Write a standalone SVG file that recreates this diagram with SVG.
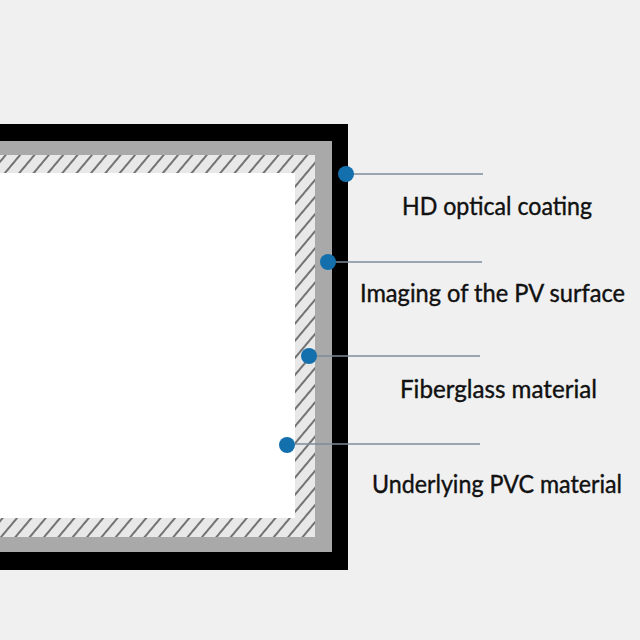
<svg xmlns="http://www.w3.org/2000/svg" width="640" height="640" viewBox="0 0 640 640">
<defs>
<pattern id="hatch" patternUnits="userSpaceOnUse" width="11" height="40" patternTransform="rotate(40)">
<rect width="11" height="40" fill="#e8e8e8"/>
<line x1="5" y1="0" x2="5" y2="40" stroke="#333" stroke-width="1.3"/>
</pattern>
<style>
.lbl{font-family:Lato,"Open Sans","Liberation Sans",sans-serif;font-size:25px;fill:#111;text-anchor:middle;stroke:#111;stroke-width:0.4}
.lead{stroke:#7d8d9b;stroke-width:1.4;fill:none}
.dot{fill:#1470ad}
</style>
</defs>
<rect width="640" height="640" fill="#f0f0f0"/>
<g id="screen">
<rect x="-10" y="124" width="358" height="446" fill="#000"/>
<rect x="-10" y="141" width="342" height="411" fill="#a9a9a9"/>
<rect x="-10" y="155" width="325" height="382" fill="url(#hatch)"/>
<rect x="-10" y="173" width="305" height="345" fill="#fff"/>
</g>
<g id="connectors">
<line class="lead" x1="346" y1="174" x2="483" y2="174"/>
<line class="lead" x1="328" y1="262" x2="482" y2="262"/>
<line class="lead" x1="309" y1="356" x2="480" y2="356"/>
<line class="lead" x1="287" y1="444" x2="480" y2="444"/>
<circle class="dot" cx="346" cy="174" r="8"/>
<circle class="dot" cx="328" cy="262" r="8"/>
<circle class="dot" cx="309" cy="356" r="8"/>
<circle class="dot" cx="287" cy="445" r="8"/>
</g>
<g id="label-hd"><text class="lbl" x="497" y="215" textLength="190" lengthAdjust="spacingAndGlyphs">HD optical coating</text></g>
<g id="label-pv"><text class="lbl" x="492.5" y="302" textLength="265" lengthAdjust="spacingAndGlyphs">Imaging of the PV surface</text></g>
<g id="label-fiber"><text class="lbl" x="498.5" y="398" textLength="197" lengthAdjust="spacingAndGlyphs">Fiberglass material</text></g>
<g id="label-pvc"><text class="lbl" x="497" y="493" font-size="24" textLength="250" lengthAdjust="spacingAndGlyphs">Underlying PVC material</text></g>
</svg>
